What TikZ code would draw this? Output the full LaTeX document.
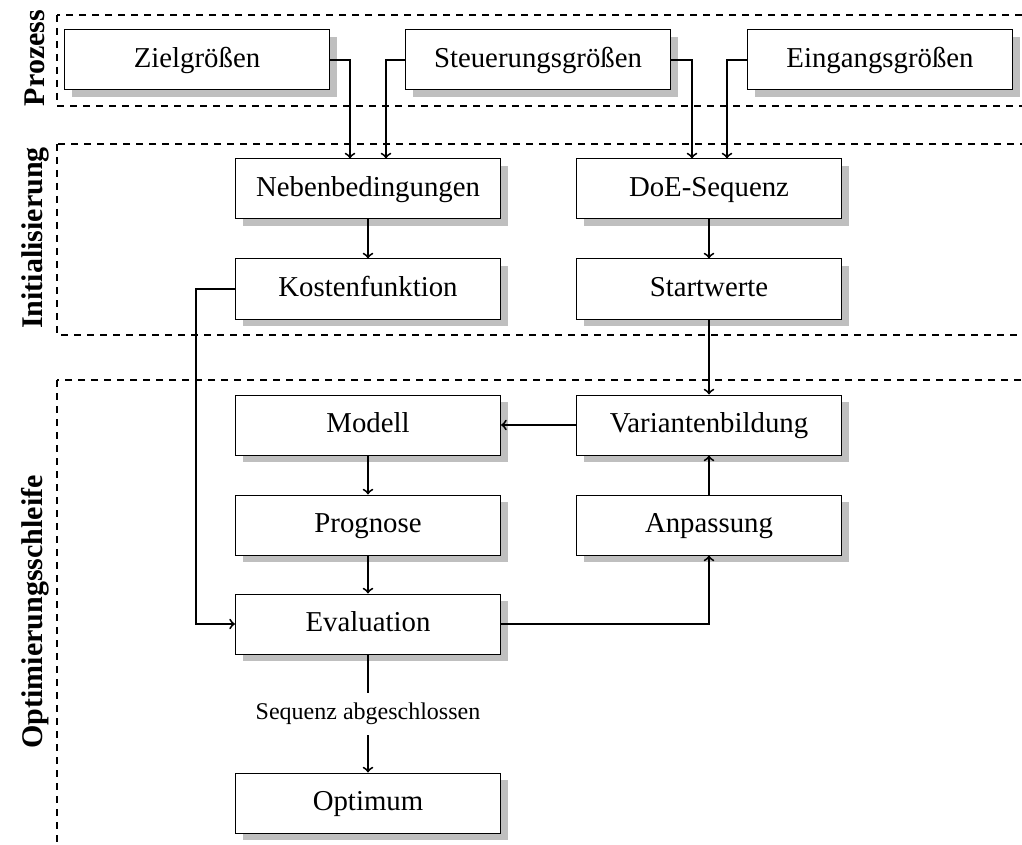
\documentclass[tikz,border=0pt]{standalone}
\usepackage{fontspec}
\setmainfont{Liberation Serif}
\usetikzlibrary{shadows}

\begin{document}
\begin{tikzpicture}[x=0.5pt,y=-0.5pt,
  box/.style={draw, line width=0.5pt, fill=white,
    minimum width=132.5pt, minimum height=30pt, inner sep=0pt,
    text height=0.9em, text depth=0.14em,
    font=\fontsize{14.4}{17}\selectfont,
    drop shadow={shadow xshift=3.5pt, shadow yshift=-3.5pt, fill=black!25, opacity=1}},
  region/.style={dash pattern=on 3.5pt off 3pt, line width=0.9pt},
  flow/.style={->, line width=0.95pt},
  tag/.style={rotate=90, font=\fontsize{15}{17}\selectfont\bfseries},
  note/.style={font=\fontsize{12}{14}\selectfont, inner xsep=2pt, inner ysep=5pt}]

\useasboundingbox (0,0) rectangle (1022,845);
\clip (0,0) rectangle (1022,845);

% phase frames
\draw[region] (57,15) rectangle (1040,106);
\draw[region] (57,144) rectangle (1040,335);
\draw[region] (57,380) rectangle (1040,880);

% phase titles
\node[tag] (tprozess) at (35,58) {Prozess};
\node[tag] (tinit) at (35,238) {Initialisierung};
\node[tag] (topt) at (35,612) {Optimierungsschleife};

% process quantities
\node[box] (ziel) at (197,60) {Zielgrößen};
\node[box] (steuer) at (538,60) {Steuerungsgrößen};
\node[box] (eingang) at (880,60) {Eingangsgrößen};

% initialisation
\node[box] (neben) at (368,189) {Nebenbedingungen};
\node[box] (doe) at (709,189) {DoE-Sequenz};
\node[box] (kosten) at (368,289) {Kostenfunktion};
\node[box] (start) at (709,289) {Startwerte};

% optimisation loop
\node[box] (modell) at (368,425) {Modell};
\node[box] (varianten) at (709,425) {Variantenbildung};
\node[box] (prognose) at (368,525) {Prognose};
\node[box] (anpassung) at (709,525) {Anpassung};
\node[box] (eval) at (368,624) {Evaluation};
\node[note] (fertig) at (368,714) {Sequenz abgeschlossen};
\node[box] (optimum) at (368,803) {Optimum};

% connectors
\draw[flow] (ziel.east) -| ([xshift=-9pt]neben.north);
\draw[flow] (steuer.west) -| ([xshift=9pt]neben.north);
\draw[flow] (steuer.east) -| ([xshift=-8.5pt]doe.north);
\draw[flow] (eingang.west) -| ([xshift=9pt]doe.north);

\draw[flow] (neben) -- (kosten);
\draw[flow] (doe) -- (start);
\draw[flow] (start) -- (varianten);
\draw[flow] (varianten) -- (modell);
\draw[flow] (modell) -- (prognose);
\draw[flow] (prognose) -- (eval);
\draw[flow] (anpassung) -- (varianten);

\draw[flow] (kosten.west) -- ++(-19.5pt,0) |- (eval.west);
\draw[flow] (eval.east) -| (anpassung.south);

\draw[line width=0.95pt] (eval.south) -- (fertig.north);
\draw[flow] (fertig.south) -- (optimum.north);
\end{tikzpicture}
\end{document}
